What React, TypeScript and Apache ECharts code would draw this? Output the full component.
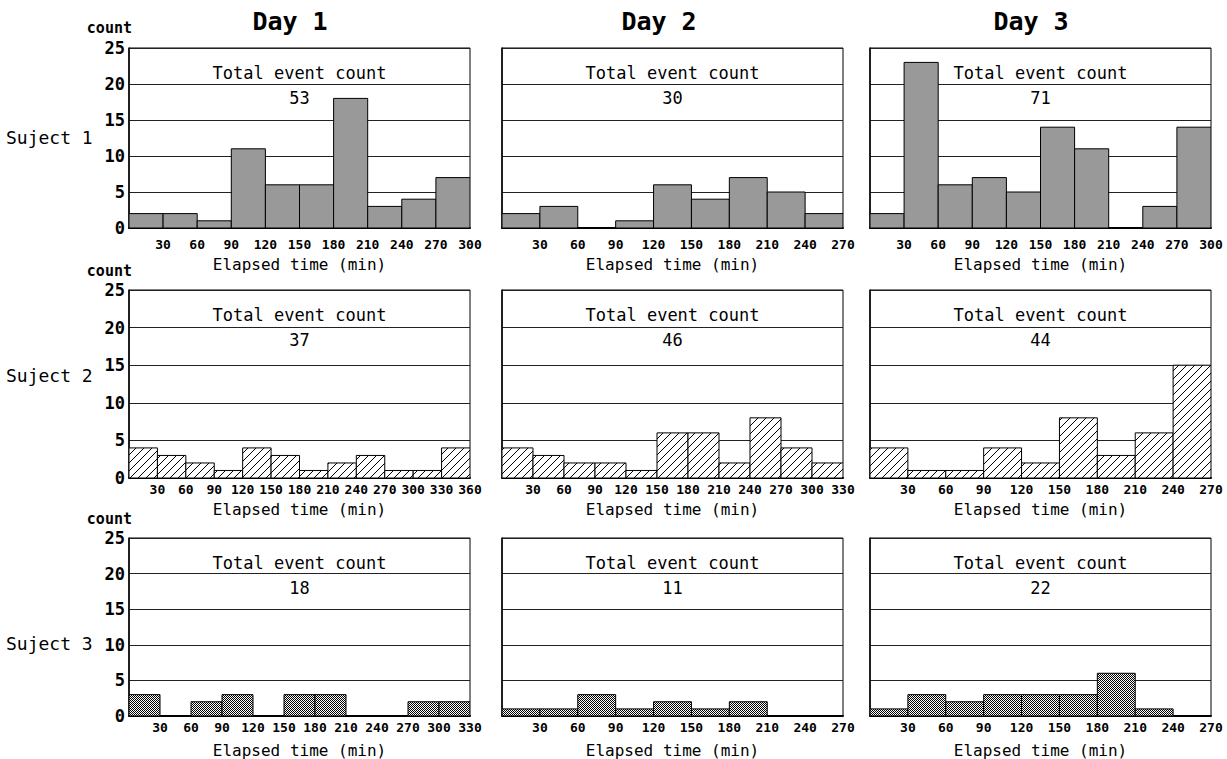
import React, { useEffect, useRef } from "react";
import * as echarts from "echarts";

// ---- data (counts per 30-min bin) ----
const BIN_MIN = 30;
const subj1Day1 = [2, 2, 1, 11, 6, 6, 18, 3, 4, 7];
const subj1Day2 = [2, 3, 0, 1, 6, 4, 7, 5, 2];
const subj1Day3 = [2, 23, 6, 7, 5, 14, 11, 0, 3, 14];
const subj2Day1 = [4, 3, 2, 1, 4, 3, 1, 2, 3, 1, 1, 4];
const subj2Day2 = [4, 3, 2, 2, 1, 6, 6, 2, 8, 4, 2];
const subj2Day3 = [4, 1, 1, 4, 2, 8, 3, 6, 15];
const subj3Day1 = [3, 0, 2, 3, 0, 3, 3, 0, 0, 2, 2];
const subj3Day2 = [1, 1, 3, 1, 2, 1, 2, 0, 0];
const subj3Day3 = [1, 3, 2, 3, 3, 3, 6, 1, 0];
const totals = [
  [53, 30, 71],
  [37, 46, 44],
  [18, 11, 22],
];
const dayTitles = ["Day 1", "Day 2", "Day 3"];
const subjectLabels = ["Suject 1", "Suject 2", "Suject 3"];
const yMax = 25;
const yStep = 5;

const panelData = [
  [subj1Day1, subj1Day2, subj1Day3],
  [subj2Day1, subj2Day2, subj2Day3],
  [subj3Day1, subj3Day2, subj3Day3],
];

// ---- layout ----
const FONT = "DejaVu Sans Mono";
const colLeft = [129, 502, 870];
const colWidth = 341;
const rowTop = [48, 290, 538];
const rowHeight = [180, 188, 179];
const labelMargin = [10, 5, 5];
const nameGap = [28, 23, 26];
const countY = [28, 271, 519];
const subjY = [137, 375, 643];
const dayX = [290, 659, 1031];

function makeHatch(): HTMLCanvasElement {
  const c = document.createElement("canvas");
  c.width = 8;
  c.height = 8;
  const ctx = c.getContext("2d")!;
  ctx.fillStyle = "#fff";
  ctx.fillRect(0, 0, 8, 8);
  ctx.fillStyle = "#000";
  for (let k = 0; k < 8; k++) ctx.fillRect(k, 7 - k, 1, 1);
  return c;
}

function makeCross(): HTMLCanvasElement {
  const c = document.createElement("canvas");
  c.width = 4;
  c.height = 4;
  const ctx = c.getContext("2d")!;
  ctx.fillStyle = "#fff";
  ctx.fillRect(0, 0, 4, 4);
  ctx.fillStyle = "#000";
  for (let x = 0; x < 4; x++)
    for (let y = 0; y < 4; y++)
      if ((x + y) % 4 === 0 || (x - y + 4) % 4 === 0 || ((x + y) % 2 === 0 && y % 2 === 0))
        ctx.fillRect(x, y, 1, 1);
  return c;
}

export default function App() {
  const ref = useRef<HTMLDivElement>(null);
  useEffect(() => {
    document.body.style.margin = "0";
    const chart = echarts.init(ref.current!, null, { renderer: "svg" });
    const hatch = makeHatch();
    const cross = makeCross();
    const fills: any[] = [
      "#999999",
      { image: hatch, repeat: "repeat", imageWidth: 8, imageHeight: 8 },
      { image: cross, repeat: "repeat", imageWidth: 4, imageHeight: 4 },
    ];

    const grid: any[] = [];
    const xAxis: any[] = [];
    const yAxis: any[] = [];
    const series: any[] = [];
    const graphic: any[] = [];

    for (let r = 0; r < 3; r++) {
      for (let c = 0; c < 3; c++) {
        const idx = r * 3 + c;
        const data = panelData[r][c];
        grid.push({
          left: colLeft[c],
          top: rowTop[r],
          width: colWidth,
          height: rowHeight[r],
          show: true,
          borderColor: "#000",
          borderWidth: 1,
          backgroundColor: "#fff",
        });
        xAxis.push({
          type: "value",
          gridIndex: idx,
          min: 0,
          max: data.length * BIN_MIN,
          interval: BIN_MIN,
          name: "Elapsed time (min)",
          nameLocation: "middle",
          nameGap: nameGap[r],
          nameTextStyle: { fontFamily: FONT, fontSize: 16, color: "#000", fontWeight: 500 },
          axisLine: { show: true, onZero: false, lineStyle: { color: "#000", width: 2 } },
          axisTick: { show: false },
          splitLine: { show: false },
          axisLabel: {
            margin: labelMargin[r],
            fontFamily: FONT,
            fontWeight: "bold",
            fontSize: 13,
            color: "#000",
            formatter: (v: number) => (v === 0 ? "" : String(v)),
            showMinLabel: true,
            showMaxLabel: true,
          },
        });
        yAxis.push({
          type: "value",
          gridIndex: idx,
          min: 0,
          max: yMax,
          interval: yStep,
          axisLine: { show: true, lineStyle: { color: "#000", width: 1.5 } },
          axisTick: { show: false },
          splitLine: { show: true, lineStyle: { color: "#222", width: 1 } },
          axisLabel: {
            show: c === 0,
            margin: 4,
            fontFamily: FONT,
            fontWeight: "bold",
            fontSize: 17,
            color: "#000",
          },
        });
        const fill = fills[r];
        series.push({
          type: "custom",
          xAxisIndex: idx,
          yAxisIndex: idx,
          clip: true,
          data: data.map((v, i) => [i, v]),
          encode: { x: 0, y: 1 },
          renderItem: (params: any, api: any) => {
            const i = api.value(0);
            const v = api.value(1);
            if (!v) return null;
            const p0 = api.coord([i * BIN_MIN, v]);
            const p1 = api.coord([(i + 1) * BIN_MIN, 0]);
            return {
              type: "rect",
              shape: { x: p0[0], y: p0[1], width: p1[0] - p0[0], height: p1[1] - p0[1] },
              style: { fill, stroke: "#000", lineWidth: 1 },
            };
          },
        });
        const cx = colLeft[c] + colWidth / 2;
        graphic.push({
          type: "text",
          x: cx,
          y: rowTop[r] + 25,
          style: {
            text: "Total event count",
            fontFamily: FONT,
            fontSize: 17,
            fill: "#000",
            align: "center",
            verticalAlign: "middle",
          },
          z: 100,
        });
        graphic.push({
          type: "text",
          x: cx,
          y: rowTop[r] + 50,
          style: {
            text: String(totals[r][c]),
            fontFamily: FONT,
            fontSize: 17,
            fill: "#000",
            align: "center",
            verticalAlign: "middle",
          },
          z: 100,
        });
      }
      graphic.push({
        type: "text",
        x: 132,
        y: countY[r],
        style: {
          text: "count",
          fontFamily: FONT,
          fontWeight: "bold",
          fontSize: 15,
          fill: "#000",
          align: "right",
          verticalAlign: "middle",
        },
      });
      graphic.push({
        type: "text",
        x: 6,
        y: subjY[r],
        style: {
          text: subjectLabels[r],
          fontFamily: FONT,
          fontSize: 18,
          fill: "#000",
          align: "left",
          verticalAlign: "middle",
        },
      });
    }
    for (let c = 0; c < 3; c++) {
      graphic.push({
        type: "text",
        x: dayX[c],
        y: 21,
        style: {
          text: dayTitles[c],
          fontFamily: FONT,
          fontWeight: "bold",
          fontSize: 25,
          fill: "#000",
          align: "center",
          verticalAlign: "middle",
        },
      });
    }

    chart.setOption({
      animation: false,
      backgroundColor: "#fff",
      grid,
      xAxis,
      yAxis,
      series,
      graphic,
    });
    return () => chart.dispose();
  }, []);
  return (
    <div
      ref={ref}
      style={{ position: "fixed", left: 0, top: 0, width: 1227, height: 759 }}
    />
  );
}
